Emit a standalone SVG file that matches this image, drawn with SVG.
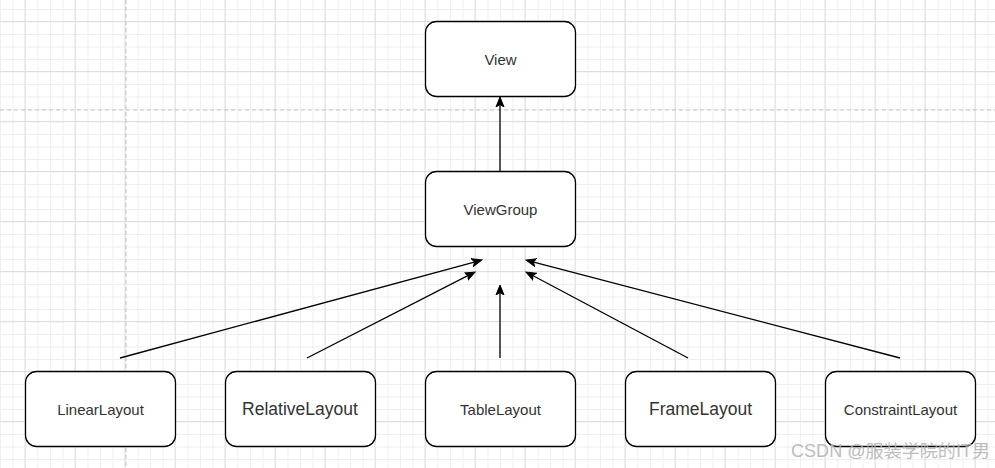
<svg xmlns="http://www.w3.org/2000/svg" width="995" height="468" viewBox="0 0 995 468">
<style>
.box{fill:#fff;stroke:#000;stroke-width:1.3}
.t{font-family:"Liberation Sans",Arial,sans-serif;fill:#333;text-anchor:middle;dominant-baseline:central}
.s{font-size:15px}
.l{font-size:17.5px}
.edge{stroke:#000;stroke-width:1.3;fill:none;marker-end:url(#arr)}
</style>
<defs>
<pattern id="minor" patternUnits="userSpaceOnUse" x="0" y="-3.5" width="12.5" height="12.5">
<path d="M0.5 0V12.5M0 0.5H12.5" stroke="#efefef" stroke-width="1" fill="none"/>
</pattern>
<pattern id="major" patternUnits="userSpaceOnUse" x="24.5" y="21" width="50" height="50">
<path d="M0.5 0V50M0 0.5H50" stroke="#dedede" stroke-width="1" fill="none"/>
</pattern>
<marker id="arr" markerUnits="userSpaceOnUse" markerWidth="12" markerHeight="10" refX="3" refY="4.5" orient="auto" viewBox="0 0 12 9">
<path d="M0,0.5 L10,4.5 L0,8.5 L2.5,4.5 Z" fill="#000" stroke="#000" stroke-width="1"/>
</marker>
</defs>
<rect width="995" height="468" fill="#fff"/>
<rect width="995" height="468" fill="url(#minor)"/>
<rect width="995" height="468" fill="url(#major)"/>
<path d="M126 0V468M0 110H995" stroke="#c4c4c4" stroke-width="1" stroke-dasharray="4 3" fill="none"/>
<g id="edges">
<line class="edge" x1="500" y1="171" x2="500" y2="104"/>
<line class="edge" x1="120" y1="358" x2="475.2" y2="261.8"/>
<line class="edge" x1="307" y1="358" x2="468.8" y2="275.2"/>
<line class="edge" x1="500" y1="358" x2="500" y2="292"/>
<line class="edge" x1="688" y1="358" x2="532.2" y2="275.3"/>
<line class="edge" x1="900" y1="358" x2="532.8" y2="261.8"/>
</g>
<g id="view"><rect class="box" x="425.5" y="21.5" width="150" height="75" rx="11"/><text class="t s" x="500.5" y="59">View</text></g>
<g id="viewgroup"><rect class="box" x="425.5" y="171.5" width="150" height="75" rx="11"/><text class="t s" x="500.5" y="209">ViewGroup</text></g>
<g id="linearlayout"><rect class="box" x="25.5" y="371.5" width="150" height="75" rx="11"/><text class="t s" x="100.5" y="409">LinearLayout</text></g>
<g id="relativelayout"><rect class="box" x="225.5" y="371.5" width="150" height="75" rx="11"/><text class="t l" x="300" y="409">RelativeLayout</text></g>
<g id="tablelayout"><rect class="box" x="425.5" y="371.5" width="150" height="75" rx="11"/><text class="t s" x="500.5" y="409">TableLayout</text></g>
<g id="framelayout"><rect class="box" x="625.5" y="371.5" width="150" height="75" rx="11"/><text class="t l" x="700.5" y="409">FrameLayout</text></g>
<g id="constraintlayout"><rect class="box" x="825.5" y="371.5" width="150" height="75" rx="11"/><text class="t s" x="900.5" y="409">ConstraintLayout</text></g>
<text x="791" y="457" font-family="'Liberation Sans','Noto Sans CJK SC',sans-serif" font-size="17.5" fill="#b4b4b4" fill-opacity="0.9" textLength="199" lengthAdjust="spacingAndGlyphs">CSDN @服装学院的IT男</text>
</svg>
